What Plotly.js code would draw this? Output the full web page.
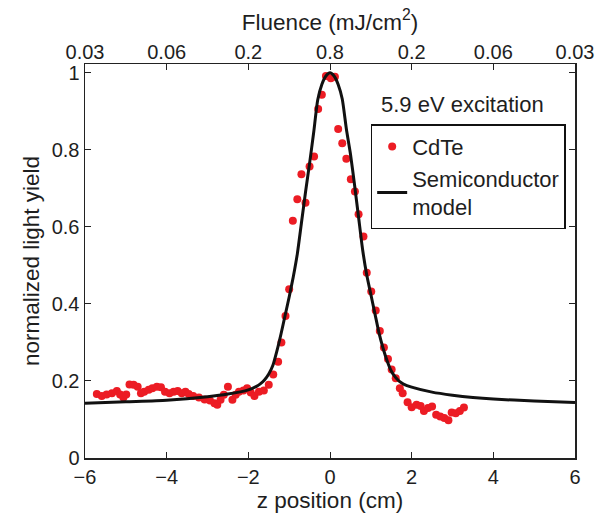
<!DOCTYPE html>
<html>
<head>
<meta charset="utf-8">
<script src="https://cdn.plot.ly/plotly-3.0.1.min.js"></script>
<style>html,body{margin:0;padding:0;background:#fff;}#chart{width:614px;height:518px;}</style>
</head>
<body>
<div id="chart"></div>
<script>
// CdTe measured points (z position in cm, normalized light yield)
const cdteZ = [
  -5.71,-5.59,-5.47,-5.34,-5.22,-5.14,-5.06,-4.99,-4.91,-4.81,-4.71,-4.63,-4.55,-4.44,-4.35,-4.24,-4.14,-4.04,-3.93,-3.83,-3.73,-3.63,
  -3.54,-3.46,-3.35,-3.21,-3.07,-2.94,-2.83,-2.76,-2.68,-2.60,-2.50,-2.39,-2.31,-2.23,-2.12,-2.03,-1.94,-1.85,-1.74,-1.62,-1.50,-1.39,
  -1.27,-1.19,-1.09,-1.00,-0.91,-0.80,-0.70,-0.60,-0.50,-0.39,-0.29,-0.20,-0.10,0.02,0.12,
  0.20,0.30,0.40,0.51,0.61,0.70,0.82,0.90,1.01,1.12,1.22,1.32,1.42,1.51,1.61,1.71,
  1.78,1.90,2.00,2.12,2.22,2.30,2.40,2.50,2.60,2.70,2.80,2.90,2.98,3.08,3.18,3.28
];
const cdteYield = [
  0.166,0.161,0.165,0.168,0.174,0.165,0.157,0.165,0.191,0.190,0.185,0.168,0.172,0.177,0.181,0.185,0.184,0.172,0.168,0.172,0.174,0.168,
  0.172,0.166,0.161,0.157,0.152,0.149,0.142,0.138,0.151,0.164,0.185,0.151,0.164,0.172,0.175,0.181,0.170,0.161,0.172,0.175,0.190,0.217,
  0.250,0.300,0.369,0.438,0.616,0.672,0.737,0.663,0.757,0.783,0.906,0.943,0.992,0.986,0.990,
  0.854,0.817,0.777,0.724,0.692,0.633,0.575,0.481,0.432,0.383,0.330,0.287,0.257,0.230,0.207,0.181,
  0.168,0.145,0.132,0.138,0.135,0.122,0.130,0.134,0.112,0.108,0.104,0.098,0.118,0.116,0.122,0.131
];
// Semiconductor model curve
const modelZ = [
  -6,-5,-4,-3,-2.5,-2,-1.8,-1.7,-1.6,-1.5,-1.4,-1.3,-1.2,-1.1,-1.0,-0.9,-0.8,-0.7,-0.6,-0.5,-0.4,-0.3,-0.2,-0.1,0,
  0.1,0.2,0.3,0.4,0.5,0.6,0.7,0.8,0.9,1.0,1.1,1.2,1.3,1.4,1.5,1.6,1.7,1.8,2.0,2.5,3,3.5,4,5,6
];
const modelYield = [
  0.142,0.146,0.150,0.159,0.166,0.177,0.186,0.193,0.203,0.218,0.240,0.278,0.322,0.370,0.418,0.470,0.530,0.610,0.690,0.765,0.845,0.930,0.970,0.992,1.0,
  0.992,0.970,0.932,0.855,0.790,0.710,0.625,0.540,0.475,0.425,0.375,0.325,0.285,0.252,0.226,0.210,0.199,0.192,0.184,0.171,0.163,0.157,0.153,0.148,0.144
];
// Top axis (fluence) tick labels
const fluenceTickPos = [-6,-4,-2,0,2,4,6];
const fluenceTickText = ['0.03','0.06','0.2','0.8','0.2','0.06','0.03'];

const FONT = 'Liberation Sans, Arial, Helvetica, sans-serif';
const TXT = '#1e1e1e';

const traces = [
  {
    x: cdteZ, y: cdteYield, type: 'scatter', mode: 'markers', name: 'CdTe',
    marker: {color: 'rgb(236,28,36)', size: 8, line: {width: 0}}
  },
  {
    x: modelZ, y: modelYield, type: 'scatter', mode: 'lines', name: 'Semiconductor<br>model',
    line: {color: '#111', width: 3, shape: 'spline', smoothing: 0.6}
  },
  {
    x: [0], y: [0], xaxis: 'x2', type: 'scatter', mode: 'markers',
    marker: {opacity: 0}, showlegend: false, hoverinfo: 'skip'
  }
];

const layout = {
  width: 614, height: 518,
  margin: {l: 85, r: 39, t: 64, b: 60, pad: 0},
  paper_bgcolor: '#fff', plot_bgcolor: '#fff',
  font: {family: FONT, size: 20, color: TXT},
  showlegend: true,
  xaxis: {
    range: [-6, 6], tickvals: [-6,-4,-2,0,2,4,6],
    ticks: 'inside', ticklen: 6, tickwidth: 1, tickcolor: '#222',
    showline: true, linecolor: '#222', linewidth: 1.5, mirror: 'ticks',
    showgrid: false, zeroline: false,
    tickfont: {size: 20, color: TXT},
    title: {text: 'z position (cm)', font: {size: 22.5, color: TXT}, standoff: 3}
  },
  xaxis2: {
    overlaying: 'x', side: 'top', range: [-6, 6],
    tickmode: 'array', tickvals: fluenceTickPos, ticktext: fluenceTickText,
    ticks: 'inside', ticklen: 6, tickcolor: '#222',
    showline: false, showgrid: false, zeroline: false,
    tickfont: {size: 20, color: TXT},
    title: {text: 'Fluence (mJ/cm<sup>2</sup>)', font: {size: 22.5, color: TXT}, standoff: 4}
  },
  yaxis: {
    range: [0, 1.023], tickvals: [0,0.2,0.4,0.6,0.8,1], ticktext: ['0','0.2','0.4','0.6','0.8','1'],
    ticks: 'inside', ticklen: 6, tickcolor: '#222',
    showline: true, linecolor: '#222', linewidth: 1.5, mirror: 'ticks',
    showgrid: false, zeroline: false,
    tickfont: {size: 20, color: TXT},
    title: {text: 'normalized light yield', font: {size: 22.5, color: TXT}, standoff: 6}
  },
  legend: {
    x: 0.583, y: 0.847, xanchor: 'left', yanchor: 'top',
    bgcolor: '#fff', bordercolor: '#111', borderwidth: 1.5,
    font: {size: 22, color: TXT, family: FONT},
    tracegroupgap: 0
  },
  annotations: [
    {text: '5.9 eV excitation', xref: 'paper', yref: 'paper', x: 0.77, y: 0.896,
     xanchor: 'center', yanchor: 'middle', showarrow: false, font: {size: 22, color: TXT}}
  ]
};

Plotly.newPlot('chart', traces, layout, {displayModeBar: false, staticPlot: true});
</script>
</body>
</html>
